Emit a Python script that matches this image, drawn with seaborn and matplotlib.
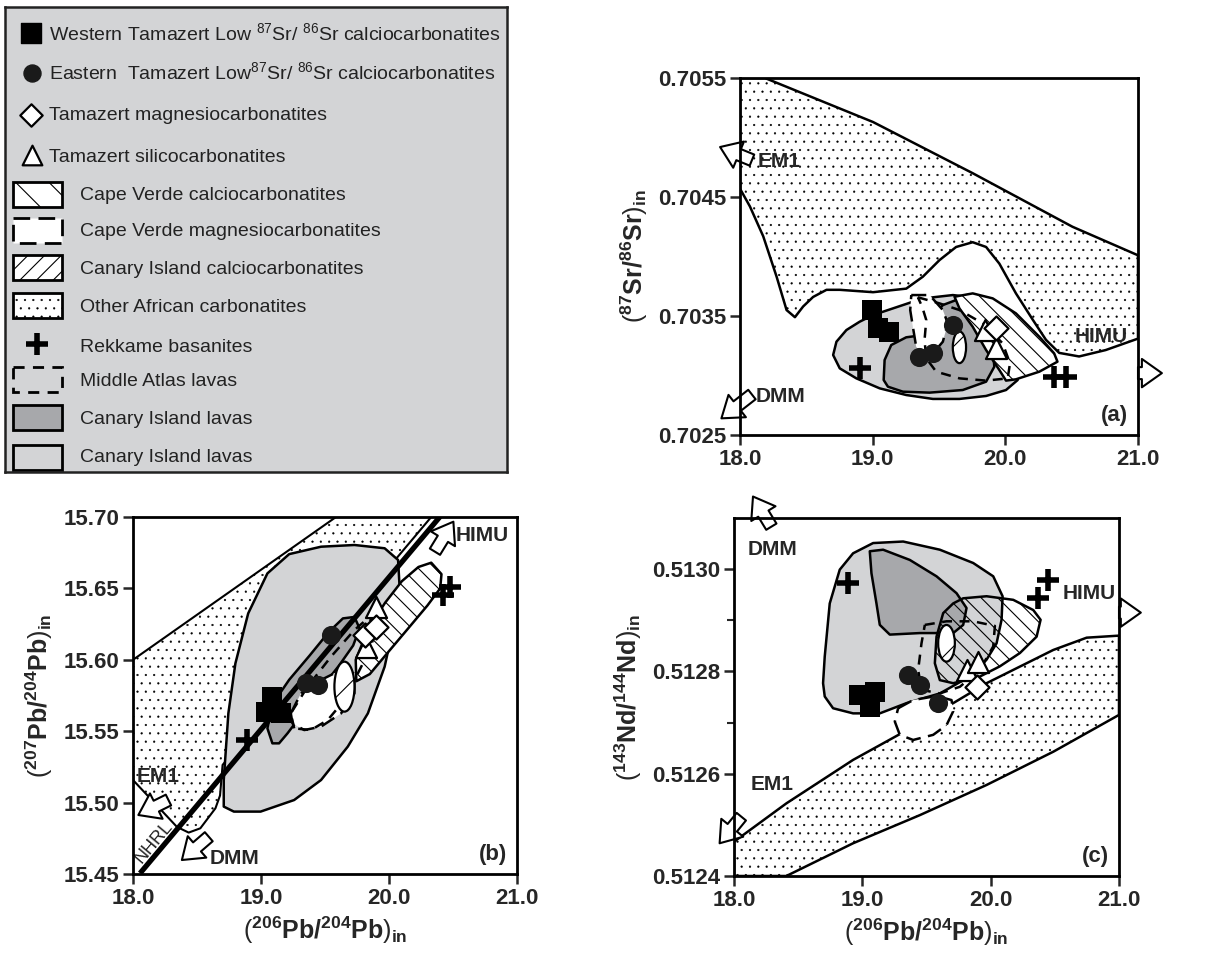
import numpy as np
import matplotlib
matplotlib.use('Agg')
import matplotlib.pyplot as plt
import seaborn as sns
from matplotlib import font_manager
from matplotlib.patches import Polygon, Ellipse, Rectangle

# ---------------------------------------------------------------- style
sns.set_style('ticks')
_names = {f.name for f in font_manager.fontManager.ttflist}
NARROW = 'Liberation Sans Narrow' in _names
LEG_FONT = 'Liberation Sans Narrow' if NARROW else 'Liberation Sans'
LEG_SIZE = 16.5 if NARROW else 14
plt.rcParams['font.family'] = ['Liberation Sans', 'DejaVu Sans']
plt.rcParams['mathtext.fontset'] = 'custom'
plt.rcParams['mathtext.rm'] = LEG_FONT
plt.rcParams['mathtext.bf'] = 'Liberation Sans:bold'
plt.rcParams['hatch.linewidth'] = 0.8

LIGHT = '#d3d4d6'
DARK = '#a7a8ab'
STIPPLE = '..'

# ---------------------------------------------------------------- data: panel (a)  206Pb/204Pb vs 87Sr/86Sr
A_AFR_X = [18.0, 18.188, 19.003, 19.754, 20.506, 21.0, 21.0, 20.757, 20.556, 20.406, 20.306, 20.206,
           20.080, 19.955, 19.855, 19.754, 19.629, 19.504, 19.378, 19.253, 19.003, 18.752, 18.652,
           18.551, 18.476, 18.414, 18.351, 18.276, 18.175, 18.075, 18.0]
A_AFR_Y = [0.7055, 0.7055, 0.70513, 0.70470, 0.70425, 0.70401, 0.70331, 0.703214, 0.70316, 0.70319,
           0.70330, 0.70347, 0.70369, 0.70394, 0.70408, 0.70412, 0.70408, 0.70397, 0.70383, 0.70373,
           0.70370, 0.70372, 0.70372, 0.70366, 0.70358, 0.70349, 0.70355, 0.70383, 0.70417, 0.70442,
           0.70457]
A_LIGHT_X = [18.702, 18.727, 18.802, 18.902, 19.003, 19.153, 19.303, 19.454, 19.604, 19.754, 19.905,
             20.030, 20.093, 20.110, 20.093, 20.005, 19.855, 19.654, 19.454, 19.253, 19.053, 18.877, 18.752]
A_LIGHT_Y = [0.703172, 0.703284, 0.703382, 0.703452, 0.703508, 0.703564, 0.703620, 0.703657, 0.703676,
             0.703657, 0.703578, 0.703410, 0.703242, 0.703074, 0.702962, 0.702878, 0.702828, 0.702803,
             0.702803, 0.702836, 0.702892, 0.702976, 0.703060]
A_DARK_X = [19.083, 19.090, 19.140, 19.253, 19.328, 19.429, 19.529, 19.629, 19.729, 19.830, 19.905,
            19.917, 19.855, 19.679, 19.429, 19.228, 19.115]
A_DARK_Y = [0.702962, 0.703130, 0.703256, 0.703321, 0.703332, 0.703466, 0.703592, 0.703634, 0.703592,
            0.703438, 0.703242, 0.703074, 0.702948, 0.702878, 0.702856, 0.702864, 0.702906]
A_CVM_X = [19.291, 19.429, 19.529, 19.566, 19.529, 19.454, 19.378, 19.328, 19.303, 19.283]
A_CVM_Y = [0.703676, 0.703676, 0.703550, 0.703438, 0.703284, 0.703186, 0.703158, 0.703242, 0.703410, 0.703550]
A_MA_X = [19.341, 19.504, 19.654, 19.830, 19.980, 20.035, 20.018, 19.855, 19.654, 19.479, 19.404,
          19.391, 19.404, 19.373]
A_MA_Y = [0.703657, 0.703606, 0.703550, 0.703438, 0.703270, 0.703102, 0.702976, 0.702957, 0.702976,
          0.703032, 0.703144, 0.703298, 0.703466, 0.703578]
A_CVC_X = [19.617, 19.754, 19.905, 20.080, 20.256, 20.368, 20.393, 20.256, 20.080, 20.005, 19.955,
           19.855, 19.754, 19.654]
A_CVC_Y = [0.703662, 0.703690, 0.703648, 0.703522, 0.703326, 0.703186, 0.703116, 0.703032, 0.702968,
           0.702957, 0.703046, 0.703214, 0.703410, 0.703564]
A_CIC_ELL = (19.654, 0.703237, 0.10, 0.000266)
A_SQ_X, A_SQ_Y = [18.995, 19.040, 19.123], [0.703550, 0.703396, 0.703368]
A_CI_X, A_CI_Y = [19.604, 19.353, 19.454], [0.703424, 0.703158, 0.703186]
A_TR_X, A_TR_Y = [19.85, 19.93], [0.70338, 0.70323]
A_DI_X, A_DI_Y = [19.93], [0.70340]
A_CR_X, A_CR_Y = [18.902, 20.368, 20.456], [0.703060, 0.702990, 0.702990]

# ---------------------------------------------------------------- data: panel (b)  206Pb/204Pb vs 207Pb/204Pb
B_AFR_X = [18.0, 19.586, 20.33, 19.5, 18.70, 18.68, 18.644, 18.526, 18.435, 18.343, 18.0]
B_AFR_Y = [15.600, 15.700, 15.700, 15.6116, 15.5264, 15.505, 15.496, 15.482, 15.479, 15.483, 15.5158]
B_LIGHT_X = [18.709, 18.709, 18.745, 18.800, 18.900, 19.050, 19.220, 19.469, 19.730, 19.966, 20.071,
             20.084, 20.045, 19.966, 19.835, 19.678, 19.469, 19.259, 18.997, 18.788]
B_LIGHT_Y = [15.4972, 15.5158, 15.5625, 15.5975, 15.6325, 15.6605, 15.6740, 15.6792, 15.6804, 15.6781,
             15.6699, 15.6489, 15.6279, 15.5952, 15.5625, 15.5392, 15.5158, 15.5018, 15.4937, 15.4937]
B_DARK_X = [19.089, 19.050, 19.090, 19.220, 19.380, 19.530, 19.640, 19.730, 19.770, 19.720, 19.610,
            19.469, 19.338, 19.207, 19.141]
B_DARK_Y = [15.5415, 15.5520, 15.5690, 15.5860, 15.6030, 15.6195, 15.6290, 15.6300, 15.6220, 15.6100,
            15.5960, 15.5800, 15.5640, 15.5485, 15.5415]
B_CVM_X = [19.233, 19.312, 19.469, 19.626, 19.730, 19.730, 19.626, 19.469, 19.338, 19.246]
B_CVM_Y = [15.5625, 15.5765, 15.5859, 15.5929, 15.5905, 15.5765, 15.5625, 15.5532, 15.5508, 15.5555]
B_MA_X = [19.259, 19.233, 19.364, 19.547, 19.730, 19.835, 19.901, 19.861, 19.757, 19.652, 19.521, 19.390]
B_MA_Y = [15.5520, 15.5625, 15.5812, 15.6022, 15.6209, 15.6290, 15.6255, 15.6092, 15.5905, 15.5718,
          15.5578, 15.5508]
B_CVC_X = [19.740, 19.840, 19.970, 20.100, 20.230, 20.330, 20.410, 20.400, 20.300, 20.150, 19.990,
           19.850, 19.745]
B_CVC_Y = [15.6000, 15.6220, 15.6400, 15.6550, 15.6650, 15.6680, 15.6600, 15.6500, 15.6380, 15.6220,
           15.6050, 15.5900, 15.5850]
B_CIC_ELL = (19.652, 15.5812, 0.157, 0.035)
B_NHRL_X, B_NHRL_Y = [18.055, 20.398], [15.4505, 15.7002]
B_SQ_X, B_SQ_Y = [19.089, 19.037, 19.154], [15.5742, 15.5637, 15.5625]
B_CI_X, B_CI_Y = [19.547, 19.351, 19.442], [15.6174, 15.5835, 15.5824]
B_TR_X, B_TR_Y = [19.901, 19.822], [15.6372, 15.6092]
B_DI_X, B_DI_Y = [19.809, 19.901], [15.6174, 15.6232]
B_CR_X, B_CR_Y = [18.893, 20.424, 20.476], [15.5438, 15.6454, 15.6512]

# ---------------------------------------------------------------- data: panel (c)  206Pb/204Pb vs 143Nd/144Nd
C_AFR_X = [18.0, 18.0, 18.408, 18.928, 19.448, 19.968, 20.488, 20.748, 21.0, 21.0, 20.488, 19.968,
           19.448, 18.928, 18.408]
C_AFR_Y = [0.5124, 0.512467, 0.512542, 0.512627, 0.512699, 0.512777, 0.512842, 0.512866, 0.512870,
           0.512715, 0.512643, 0.512578, 0.512519, 0.512464, 0.5124]
C_LIGHT_X = [18.694, 18.707, 18.746, 18.824, 18.928, 19.084, 19.318, 19.604, 19.864, 20.020, 20.093,
             20.085, 20.046, 19.968, 19.838, 19.604, 19.344, 19.136, 18.928, 18.772, 18.707]
C_LIGHT_Y = [0.512777, 0.512829, 0.512933, 0.512999, 0.513031, 0.513051, 0.513054, 0.513038, 0.513012,
             0.512986, 0.512947, 0.512901, 0.512855, 0.512823, 0.512790, 0.512757, 0.512738, 0.512718,
             0.512718, 0.512728, 0.512751]
C_DARK_X = [19.058, 19.162, 19.370, 19.578, 19.734, 19.812, 19.786, 19.708, 19.448, 19.214, 19.136,
            19.110, 19.071]
C_DARK_Y = [0.513035, 0.513038, 0.513018, 0.512986, 0.512953, 0.512924, 0.512891, 0.512875, 0.512875,
            0.512872, 0.512891, 0.512933, 0.512992]
C_CVC_X = [19.708, 19.786, 19.968, 20.176, 20.332, 20.389, 20.358, 20.228, 20.072, 19.916, 19.708,
           19.604, 19.565, 19.578, 19.630]
C_CVC_Y = [0.512933, 0.512943, 0.512947, 0.512940, 0.512920, 0.512901, 0.512868, 0.512836, 0.512810,
           0.512790, 0.512777, 0.512783, 0.512816, 0.512868, 0.512914]
C_MA_X = [19.487, 19.656, 19.864, 20.033, 20.020, 19.916, 19.760, 19.604, 19.461, 19.435, 19.461]
C_MA_Y = [0.512891, 0.512898, 0.512898, 0.512889, 0.512849, 0.512803, 0.512770, 0.512757, 0.512764,
          0.512803, 0.512855]
C_CVM_X = [19.279, 19.396, 19.578, 19.695, 19.708, 19.656, 19.552, 19.396, 19.292, 19.253]
C_CVM_Y = [0.512728, 0.512744, 0.512752, 0.512744, 0.512722, 0.512695, 0.512676, 0.512666, 0.512676, 0.512702]
C_CIC_ELL = (19.656, 0.512855, 0.13, 0.0000717)
C_SQ_X, C_SQ_Y = [18.975, 19.097, 19.058], [0.512753, 0.512759, 0.512730]
C_CI_X, C_CI_Y = [19.357, 19.448, 19.591], [0.512793, 0.512774, 0.512738]
C_TR_X, C_TR_Y = [19.812, 19.903], [0.512803, 0.512819]
C_DI_X, C_DI_Y = [19.890], [0.512770]
C_CR_X, C_CR_Y = [18.889, 20.371, 20.449], [0.512973, 0.512943, 0.512979]

# ---------------------------------------------------------------- axes / ticks
X_TICKS = [18.0, 19.0, 20.0, 21.0]
X_LABELS = ['18.0', '19.0', '20.0', '21.0']
A_YTICKS = [0.7025, 0.7035, 0.7045, 0.7055]
A_YLABELS = ['0.7025', '0.7035', '0.7045', '0.7055']
B_YTICKS = [15.45, 15.50, 15.55, 15.60, 15.65, 15.70]
B_YLABELS = ['15.45', '15.50', '15.55', '15.60', '15.65', '15.70']
C_YTICKS = [0.5124, 0.5126, 0.5128, 0.5130]
C_YLABELS = ['0.5124', '0.5126', '0.5128', '0.5130']
C_YMINOR = [0.5125, 0.5127, 0.5129]

LEGEND_LABELS = [
    'Western Tamazert Low $^{87}$Sr/ $^{86}$Sr calciocarbonatites',
    'Eastern  Tamazert Low$^{87}$Sr/ $^{86}$Sr calciocarbonatites',
    'Tamazert magnesiocarbonatites',
    'Tamazert silicocarbonatites',
    'Cape Verde calciocarbonatites',
    'Cape Verde magnesiocarbonatites',
    'Canary Island calciocarbonatites',
    'Other African carbonatites',
    'Rekkame basanites',
    'Middle Atlas lavas',
    'Canary Island lavas',
    'Canary Island lavas',
]

# ---------------------------------------------------------------- helpers
def field(ax, xs, ys, fc, ls='-', hatch=None, z=2, lw=1.8, ec='black'):
    ax.add_patch(Polygon(np.column_stack([xs, ys]), closed=True, facecolor=fc, edgecolor=ec,
                         lw=lw, ls=ls, hatch=hatch, zorder=z, joinstyle='round'))


def stipple(ax, xs, ys, z=1, lw=1.8):
    with plt.rc_context({'hatch.linewidth': 0.35}):
        ax.add_patch(Polygon(np.column_stack([xs, ys]), closed=True, facecolor='white',
                             edgecolor='black', lw=lw, hatch=STIPPLE, zorder=z, joinstyle='round'))


def small_ellipse(ax, e, z=7):
    ax.add_patch(Ellipse((e[0], e[1]), e[2], e[3], facecolor='white', edgecolor='black',
                         lw=1.6, hatch='/', zorder=z))


def block_arrow(ax, tail, tip):
    ax.annotate('', xy=tip, xytext=tail, xycoords='data', textcoords='data', annotation_clip=False,
                arrowprops=dict(arrowstyle='simple,head_length=0.6,head_width=0.85,tail_width=0.36',
                                fc='white', ec='black', lw=1.5, shrinkA=0, shrinkB=0,
                                mutation_scale=24))


def points(ax, sq, ci, tr, di, cr):
    kw = dict(ax=ax, legend=False, zorder=10)
    sns.scatterplot(x=sq[0], y=sq[1], marker='s', s=215, color='black', edgecolor='black', linewidth=0, **kw)
    sns.scatterplot(x=ci[0], y=ci[1], marker='o', s=190, color='#1a1a1a', edgecolor='black', linewidth=0, **kw)
    sns.scatterplot(x=tr[0], y=tr[1], marker='^', s=230, color='white', edgecolor='black', linewidth=1.6, **kw)
    sns.scatterplot(x=di[0], y=di[1], marker='D', s=150, color='white', edgecolor='black', linewidth=1.6, **kw)
    sns.scatterplot(x=cr[0], y=cr[1], marker='+', s=260, color='black', linewidth=4.0, **kw)


def style_axes(ax, xlim, ylim, yticks, ylabels, letter):
    ax.set_xlim(*xlim)
    ax.set_ylim(*ylim)
    ax.set_xticks(X_TICKS, labels=X_LABELS, fontsize=16, fontweight='bold')
    ax.set_yticks(yticks, labels=ylabels, fontsize=16, fontweight='bold')
    ax.tick_params(direction='out', length=7, width=1.8, pad=3)
    ax.tick_params(which='minor', direction='out', length=5, width=1.5)
    for sp in ax.spines.values():
        sp.set_linewidth(2.0)
        sp.set_color('black')
        sp.set_zorder(20)
    ax.set_facecolor('white')
    ax.text(0.975, 0.025, letter, transform=ax.transAxes, ha='right', va='bottom',
            fontsize=16, fontweight='bold', zorder=21)


def tag(ax, x, y, s, ha='center'):
    ax.text(x, y, s, ha=ha, va='center', fontsize=15, fontweight='bold', zorder=15, clip_on=False)


# ---------------------------------------------------------------- figure
fig = plt.figure(figsize=(12.2, 9.56), dpi=100)
W, H = 1220, 956
ax_a = fig.add_axes([740 / W, 1 - 435 / H, 398 / W, 357 / H])
ax_b = fig.add_axes([133 / W, 1 - 874 / H, 384 / W, 357 / H])
ax_c = fig.add_axes([734 / W, 1 - 876 / H, 385 / W, 358 / H])
ax_l = fig.add_axes([5 / W, 1 - 472 / H, 502 / W, 465 / H])

# ---- panel (a)
ax = ax_a
stipple(ax, A_AFR_X, A_AFR_Y)
field(ax, A_LIGHT_X, A_LIGHT_Y, LIGHT, z=2)
field(ax, A_DARK_X, A_DARK_Y, DARK, z=3)
field(ax, A_CVC_X, A_CVC_Y, 'white', hatch='\\\\', z=4)
field(ax, A_CVM_X, A_CVM_Y, 'white', ls=(0, (6, 3)), z=5)
field(ax, A_MA_X, A_MA_Y, 'none', ls=(0, (4, 3)), z=6)
small_ellipse(ax, A_CIC_ELL)
points(ax, (A_SQ_X, A_SQ_Y), (A_CI_X, A_CI_Y), (A_TR_X, A_TR_Y), (A_DI_X, A_DI_Y), (A_CR_X, A_CR_Y))
style_axes(ax, (18.0, 21.0), (0.7025, 0.7055), A_YTICKS, A_YLABELS, '(a)')
ax.set_ylabel(r'$(^{\mathbf{87}}\mathbf{Sr/}^{\mathbf{86}}\mathbf{Sr})_{\mathbf{in}}$', fontsize=18, labelpad=6)
tag(ax, 18.13, 0.70480, 'EM1', ha='left')
block_arrow(ax, (18.09, 0.70481), (17.85, 0.70492))
tag(ax, 18.12, 0.70282, 'DMM', ha='left')
block_arrow(ax, (18.09, 0.70284), (17.86, 0.70264))
tag(ax, 20.52, 0.70333, 'HIMU', ha='left')
block_arrow(ax, (21.0, 0.70302), (21.18, 0.70302))

# ---- panel (b)
ax = ax_b
stipple(ax, B_AFR_X, B_AFR_Y, lw=1.5)
field(ax, B_LIGHT_X, B_LIGHT_Y, LIGHT, z=2)
field(ax, B_DARK_X, B_DARK_Y, DARK, z=3)
field(ax, B_CVC_X, B_CVC_Y, 'white', hatch='\\\\', z=4)
field(ax, B_CVM_X, B_CVM_Y, 'white', ls=(0, (6, 3)), z=5)
field(ax, B_MA_X, B_MA_Y, 'none', ls=(0, (4, 3)), z=6)
small_ellipse(ax, B_CIC_ELL)
ax.plot(B_NHRL_X, B_NHRL_Y, color='black', lw=3.8, zorder=8, solid_capstyle='butt')
points(ax, (B_SQ_X, B_SQ_Y), (B_CI_X, B_CI_Y), (B_TR_X, B_TR_Y), (B_DI_X, B_DI_Y), (B_CR_X, B_CR_Y))
style_axes(ax, (18.0, 21.0), (15.45, 15.70), B_YTICKS, B_YLABELS, '(b)')
ax.set_ylabel(r'$(^{\mathbf{207}}\mathbf{Pb/}^{\mathbf{204}}\mathbf{Pb})_{\mathbf{in}}$', fontsize=18, labelpad=6)
ax.set_xlabel(r'$(^{\mathbf{206}}\mathbf{Pb/}^{\mathbf{204}}\mathbf{Pb})_{\mathbf{in}}$', fontsize=18, labelpad=4)
ax.text(18.165, 15.472, 'NHRL', rotation=50, ha='center', va='center', fontsize=13, zorder=9,
        color='#222222')
tag(ax, 18.20, 15.518, 'EM1')
block_arrow(ax, (18.277, 15.5018), (18.042, 15.4913))
tag(ax, 18.79, 15.461, 'DMM')
block_arrow(ax, (18.592, 15.4761), (18.382, 15.4598))
tag(ax, 20.73, 15.687, 'HIMU')
block_arrow(ax, (20.359, 15.6757), (20.503, 15.6967))

# ---- panel (c)
ax = ax_c
stipple(ax, C_AFR_X, C_AFR_Y)
field(ax, C_LIGHT_X, C_LIGHT_Y, LIGHT, z=2)
field(ax, C_DARK_X, C_DARK_Y, DARK, z=3)
field(ax, C_CVC_X, C_CVC_Y, 'none', hatch='\\\\', z=4)
field(ax, C_MA_X, C_MA_Y, 'none', ls=(0, (4, 3)), z=6)
field(ax, C_CVM_X, C_CVM_Y, 'white', ls=(0, (6, 3)), z=5)
small_ellipse(ax, C_CIC_ELL)
points(ax, (C_SQ_X, C_SQ_Y), (C_CI_X, C_CI_Y), (C_TR_X, C_TR_Y), (C_DI_X, C_DI_Y), (C_CR_X, C_CR_Y))
style_axes(ax, (18.0, 21.0), (0.5124, 0.5131), C_YTICKS, C_YLABELS, '(c)')
ax.set_yticks(C_YMINOR, minor=True)
ax.set_ylabel(r'$(^{\mathbf{143}}\mathbf{Nd/}^{\mathbf{144}}\mathbf{Nd})_{\mathbf{in}}$', fontsize=18, labelpad=6)
ax.set_xlabel(r'$(^{\mathbf{206}}\mathbf{Pb/}^{\mathbf{204}}\mathbf{Pb})_{\mathbf{in}}$', fontsize=18, labelpad=4)
tag(ax, 18.30, 0.513038, 'DMM')
block_arrow(ax, (18.291, 0.513083), (18.148, 0.513142))
tag(ax, 20.77, 0.512953, 'HIMU')
block_arrow(ax, (21.0, 0.512915), (21.17, 0.512915))
tag(ax, 18.30, 0.512578, 'EM1')
block_arrow(ax, (18.057, 0.512516), (17.888, 0.512464))

# ---- legend box (drawn in its own pixel-unit axes)
ax = ax_l
ax.set_xlim(5, 507)
ax.set_ylim(472, 7)
ax.set_xticks([])
ax.set_yticks([])
ax.set_facecolor(LIGHT)
for sp in ax.spines.values():
    sp.set_linewidth(1.8)
    sp.set_color('#222222')

MARK_ROWS_Y = [33, 73, 115, 155]
MARK_TEXT_Y = [34, 73, 116, 157]
ax.scatter([31], [MARK_ROWS_Y[0]], marker='s', s=190, color='black', zorder=3)
ax.scatter([32], [MARK_ROWS_Y[1]], marker='o', s=150, color='#1a1a1a', zorder=3)
ax.scatter([31], [MARK_ROWS_Y[2]], marker='D', s=130, facecolor='white', edgecolor='black', linewidth=1.6, zorder=3)
ax.scatter([32], [MARK_ROWS_Y[3]], marker='^', s=200, facecolor='white', edgecolor='black', linewidth=1.6, zorder=3)
for i in range(4):
    ax.text(49, MARK_TEXT_Y[i], LEGEND_LABELS[i], fontsize=LEG_SIZE, family=[LEG_FONT, 'DejaVu Sans'],
            va='center', ha='left', color='#222222')

BOX_TOP = [182, 218, 255, 293, None, 367, 405, 445]
BOX_TEXT_Y = [196, 232, 269, 307, 348, 381, 419, 458]
box_styles = [
    dict(fc='white', hatch='\\', ls='-'),
    dict(fc='white', hatch=None, ls=(0, (6, 3))),
    dict(fc='white', hatch='//', ls='-'),
    dict(fc='white', hatch=STIPPLE, ls='-'),
    None,
    dict(fc='none', hatch=None, ls=(0, (4, 3))),
    dict(fc=DARK, hatch=None, ls='-'),
    dict(fc=LIGHT, hatch=None, ls='-'),
]
for k, st in enumerate(box_styles):
    lab = LEGEND_LABELS[4 + k]
    if st is None:
        ax.scatter([37], [344], marker='+', s=260, color='black', linewidth=4.0, zorder=3)
    else:
        hw = 0.35 if st['hatch'] == STIPPLE else 0.8
        with plt.rc_context({'hatch.linewidth': hw}):
            ax.add_patch(Rectangle((13, BOX_TOP[k]), 49, 25, facecolor=st['fc'], edgecolor='black',
                                   lw=2.0, ls=st['ls'], hatch=st['hatch'], zorder=2))
    ax.text(80, BOX_TEXT_Y[k], lab, fontsize=LEG_SIZE, family=[LEG_FONT, 'DejaVu Sans'],
            va='center', ha='left', color='#222222')

fig.savefig('out.png', dpi=100, facecolor='white')
